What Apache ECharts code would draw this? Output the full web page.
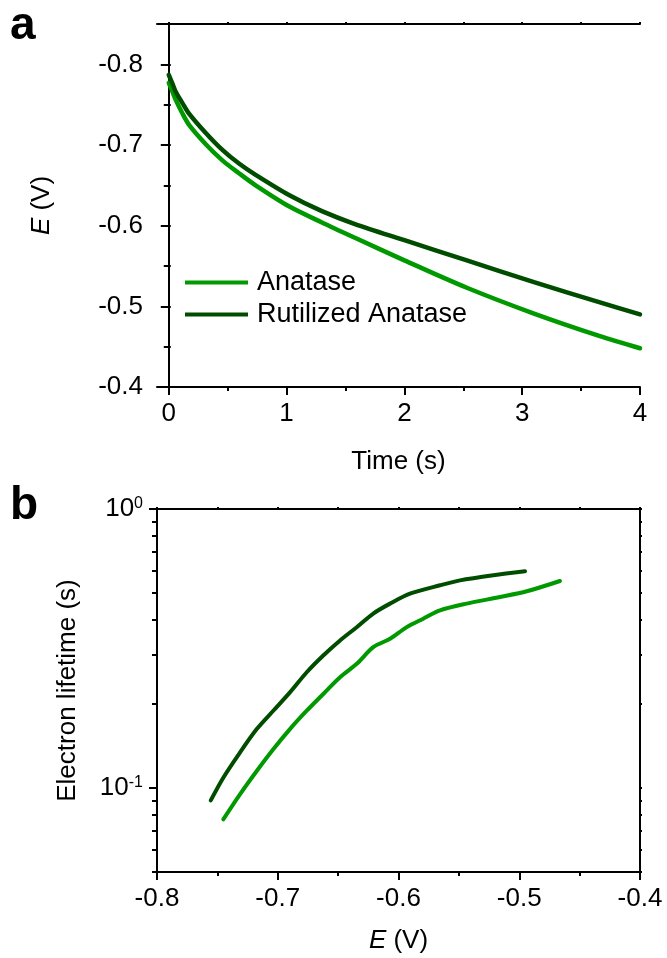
<!DOCTYPE html>
<html>
<head>
<meta charset="utf-8">
<script src="https://cdn.jsdelivr.net/npm/echarts@6/dist/echarts.min.js"></script>
<style>html,body{margin:0;padding:0;background:#fff}#c{width:667px;height:958px}</style>
</head>
<body>
<div id="c"></div>
<script>
// Panel a: potential decay
const timeS = [0, 0.031, 0.059, 0.116, 0.172, 0.314, 0.455, 0.596, 0.737, 1.02, 1.30, 1.58, 2.0, 2.53, 3.1, 3.66, 4.0];
const eAnatase = [-0.777, -0.766, -0.756, -0.739, -0.725, -0.701, -0.681, -0.665, -0.650, -0.624, -0.604, -0.585, -0.557, -0.523, -0.491, -0.463, -0.448];
const eRutilized = [-0.787, -0.776, -0.766, -0.752, -0.739, -0.715, -0.694, -0.677, -0.663, -0.638, -0.618, -0.602, -0.582, -0.557, -0.530, -0.505, -0.490];

// Panel b: electron lifetime vs E
const eLifeAnatase = [-0.7451, -0.7313, -0.7174, -0.7037, -0.6899, -0.6760, -0.6623, -0.6484, -0.6346, -0.6209, -0.6070, -0.5932, -0.5795, -0.5656, -0.5435, -0.5159, -0.4938, -0.4663];
const tauAnatase = [0.0772, 0.0949, 0.1151, 0.1377, 0.1626, 0.1892, 0.2173, 0.2494, 0.2786, 0.3197, 0.3426, 0.3773, 0.4045, 0.4333, 0.458, 0.4836, 0.507, 0.552];
const eLifeRutilized = [-0.7555, -0.7451, -0.7313, -0.7174, -0.7037, -0.6899, -0.6760, -0.6623, -0.6484, -0.6346, -0.6209, -0.6070, -0.5905, -0.5656, -0.5491, -0.5215, -0.4952];
const tauRutilized = [0.0903, 0.1089, 0.1340, 0.1626, 0.1892, 0.2202, 0.260, 0.2985, 0.338, 0.377, 0.422, 0.458, 0.497, 0.533, 0.555, 0.579, 0.598];

// Tick values
const timeMajor = [0, 1, 2, 3, 4];
const timeMinor = [0.5, 1.5, 2.5, 3.5];
const timeAll = [0, 0.5, 1, 1.5, 2, 2.5, 3, 3.5, 4];
const eTopMajor = [-0.8, -0.7, -0.6, -0.5, -0.4];
const eTopMinor = [-0.85, -0.75, -0.65, -0.55, -0.45];
const eTopAll = [-0.85, -0.8, -0.75, -0.7, -0.65, -0.6, -0.55, -0.5, -0.45, -0.4];
const eBotMajor = [-0.8, -0.7, -0.6, -0.5, -0.4];
const eBotMinor = [-0.75, -0.65, -0.55, -0.45];
const eBotAll = [-0.8, -0.75, -0.7, -0.65, -0.6, -0.55, -0.5, -0.45, -0.4];
const tauMajor = [0.1, 1];
const tauMinor = [0.05, 0.06, 0.07, 0.08, 0.09, 0.2, 0.3, 0.4, 0.5, 0.6, 0.7, 0.8, 0.9];

const FONT = 'Liberation Sans, Arial, sans-serif';
const C_LIGHT = '#009900';
const C_DARK = '#004d00';
const FS = 26;

function zip(a, b) { return a.map((v, i) => [v, b[i]]); }

const lineAx = { show: true, lineStyle: { color: '#000', width: 2 } };
const noLine = { show: false };

function axisCommon(extra) {
  return Object.assign({
    splitLine: { show: false },
    axisLine: lineAx,
    axisLabel: { show: false },
    axisTick: { show: false }
  }, extra);
}

const chart = echarts.init(document.getElementById('c'), null, { renderer: 'canvas' });

const titleRich = {
  i: { fontStyle: 'italic', fontSize: FS, fontFamily: FONT, color: '#000' },
  n: { fontSize: FS, fontFamily: FONT, color: '#000' }
};

const option = {
  animation: false,
  backgroundColor: '#fff',
  textStyle: { fontFamily: FONT },
  grid: [
    { left: 157, top: 24, width: 483, height: 363 },
    { left: 157, top: 509, width: 483, height: 363 }
  ],
  legend: {
    orient: 'vertical',
    left: 185,
    top: 269,
    padding: 0,
    itemGap: 5,
    itemWidth: 63,
    itemHeight: 4,
    icon: 'rect',
    data: ['Anatase', 'Rutilized Anatase'],
    textStyle: { fontSize: 27, fontFamily: FONT, color: '#000', padding: [0, 0, 0, 4] }
  },
  xAxis: [
    axisCommon({
      gridIndex: 0, type: 'value', min: -0.1, max: 4, position: 'bottom',
      axisTick: { show: true, customValues: timeMajor, length: 8, lineStyle: { width: 2, color: '#000' } },
      axisLabel: { show: true, customValues: timeMajor, margin: 14, fontSize: FS, fontFamily: FONT, color: '#000',
        formatter: v => String(Math.round(v)) },
      name: 'Time (s)', nameLocation: 'middle', nameGap: 62,
      nameTextStyle: { fontSize: FS, fontFamily: FONT, color: '#000' }
    }),
    axisCommon({
      gridIndex: 0, type: 'value', min: -0.1, max: 4, position: 'bottom', axisLine: noLine,
      axisTick: { show: true, customValues: timeMinor, length: 4, lineStyle: { width: 2, color: '#000' } }
    }),
    axisCommon({
      gridIndex: 0, type: 'value', min: -0.1, max: 4, position: 'top',
      axisTick: { show: true, customValues: timeAll, length: 2, lineStyle: { width: 2, color: '#000' } }
    }),
    axisCommon({
      gridIndex: 1, type: 'value', min: -0.8, max: -0.4, position: 'bottom',
      axisTick: { show: true, customValues: eBotMajor, length: 8, lineStyle: { width: 2, color: '#000' } },
      axisLabel: { show: true, customValues: eBotMajor, margin: 14, fontSize: FS, fontFamily: FONT, color: '#000',
        formatter: v => v.toFixed(1) },
      name: '{i|E}{n| (V)}', nameLocation: 'middle', nameGap: 56,
      nameTextStyle: { rich: titleRich }
    }),
    axisCommon({
      gridIndex: 1, type: 'value', min: -0.8, max: -0.4, position: 'bottom', axisLine: noLine,
      axisTick: { show: true, customValues: eBotMinor, length: 4, lineStyle: { width: 2, color: '#000' } }
    }),
    axisCommon({
      gridIndex: 1, type: 'value', min: -0.8, max: -0.4, position: 'top',
      axisTick: { show: true, customValues: eBotAll, length: 2, lineStyle: { width: 2, color: '#000' } }
    })
  ],
  yAxis: [
    axisCommon({
      gridIndex: 0, type: 'value', min: -0.85, max: -0.4, inverse: true, position: 'left',
      axisTick: { show: true, customValues: eTopMajor, length: 8, lineStyle: { width: 2, color: '#000' } },
      axisLabel: { show: true, customValues: eTopMajor, margin: 14, fontSize: FS, fontFamily: FONT, color: '#000',
        formatter: v => v.toFixed(1) },
      name: '{i|E}{n| (V)}', nameLocation: 'middle', nameGap: 102, nameRotate: 90,
      nameTextStyle: { rich: titleRich }
    }),
    axisCommon({
      gridIndex: 0, type: 'value', min: -0.85, max: -0.4, inverse: true, position: 'left', axisLine: noLine,
      axisTick: { show: true, customValues: eTopMinor, length: 5, lineStyle: { width: 2, color: '#000' } }
    }),
    axisCommon({
      gridIndex: 0, type: 'value', min: -0.85, max: -0.4, inverse: true, position: 'right',
      axisTick: { show: true, customValues: eTopAll, length: 2, lineStyle: { width: 2, color: '#000' } }
    }),
    axisCommon({
      gridIndex: 1, type: 'log', min: 0.05, max: 1, position: 'left',
      axisTick: { show: true, customValues: tauMajor, length: 8, lineStyle: { width: 2, color: '#000' } },
      axisLabel: { show: true, customValues: tauMajor, margin: 14,
        formatter: v => '{b|10}{s|' + Math.round(Math.log10(v)) + '}',
        rich: {
          b: { fontSize: FS, fontFamily: FONT, color: '#000', lineHeight: 26 },
          s: { fontSize: 16, fontFamily: FONT, color: '#000', verticalAlign: 'top', lineHeight: 16 }
        }
      },
      name: 'Electron lifetime (s)', nameLocation: 'middle', nameGap: 76, nameRotate: 90,
      nameTextStyle: { fontSize: FS, fontFamily: FONT, color: '#000' }
    }),
    axisCommon({
      gridIndex: 1, type: 'log', min: 0.05, max: 1, position: 'left', axisLine: noLine,
      axisTick: { show: true, customValues: tauMinor, length: 5, lineStyle: { width: 2, color: '#000' } }
    }),
    axisCommon({
      gridIndex: 1, type: 'log', min: 0.05, max: 1, position: 'right',
      axisTick: { show: true, customValues: tauMinor.concat(tauMajor), length: 2, lineStyle: { width: 2, color: '#000' } }
    })
  ],
  series: [
    { name: 'Anatase', type: 'line', xAxisIndex: 0, yAxisIndex: 0, data: zip(timeS, eAnatase),
      smooth: 0.3, symbol: 'none', lineStyle: { color: C_LIGHT, width: 4.5, cap: 'round' }, itemStyle: { color: C_LIGHT } },
    { name: 'Rutilized Anatase', type: 'line', xAxisIndex: 0, yAxisIndex: 0, data: zip(timeS, eRutilized),
      smooth: 0.3, symbol: 'none', lineStyle: { color: C_DARK, width: 4.5, cap: 'round' }, itemStyle: { color: C_DARK } },
    { name: 'Anatase', type: 'line', xAxisIndex: 3, yAxisIndex: 3, data: zip(eLifeAnatase, tauAnatase),
      smooth: 0.3, symbol: 'none', lineStyle: { color: C_LIGHT, width: 4, cap: 'round' }, itemStyle: { color: C_LIGHT } },
    { name: 'Rutilized Anatase', type: 'line', xAxisIndex: 3, yAxisIndex: 3, data: zip(eLifeRutilized, tauRutilized),
      smooth: 0.3, symbol: 'none', lineStyle: { color: C_DARK, width: 4, cap: 'round' }, itemStyle: { color: C_DARK } }
  ],
  graphic: [
    { type: 'text', left: 10, top: 3, style: { text: 'a', font: 'bold 46px ' + FONT, fill: '#000' } },
    { type: 'text', left: 10, top: 483, style: { text: 'b', font: 'bold 46px ' + FONT, fill: '#000' } }
  ]
};

chart.setOption(option);
</script>
</body>
</html>
